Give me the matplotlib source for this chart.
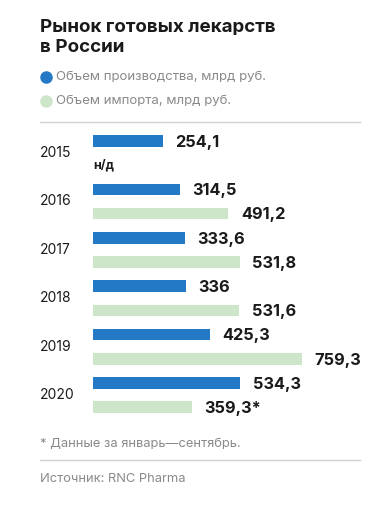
import matplotlib
matplotlib.use("Agg")
import matplotlib.pyplot as plt
from matplotlib.lines import Line2D

years = ["2015", "2016", "2017", "2018", "2019", "2020"]
production = [254.1, 314.5, 333.6, 336.0, 425.3, 534.3]
imports = [None, 491.2, 531.8, 531.6, 759.3, 359.3]
prod_labels = ["254,1", "314,5", "333,6", "336", "425,3", "534,3"]
imp_labels = ["н/д", "491,2", "531,8", "531,6", "759,3", "359,3*"]

title = "Рынок готовых лекарств\nв России"
legend_labels = ["Объем производства, млрд руб.", "Объем импорта, млрд руб."]
footnote = "* Данные за январь—сентябрь."
source = "Источник: RNC Pharma"

BLUE = "#2479c6"
GREEN = "#cde6c9"
GRAY = "#8a8a8a"
FONT = ["Inter", "DejaVu Sans"]
plt.rcParams["font.family"] = FONT

W, H = 389, 509
fig = plt.figure(figsize=(W / 100, H / 100), dpi=100)
fig.patch.set_facecolor("white")

def fx(px):
    return px / W

def fy(py):
    return 1 - py / H

# Title
fig.text(fx(40), fy(19), title, fontsize=13.5, fontweight="bold", color="#1a1a1a",
         va="top", ha="left", linespacing=1.25)

# Legend
for i, (lab, col) in enumerate(zip(legend_labels, [BLUE, GREEN])):
    y = 77 + 24 * i
    fig.add_artist(Line2D([fx(46)], [fy(y)], marker="o", markersize=8,
                          color=col, transform=fig.transFigure))
    fig.text(fx(56), fy(y), lab, fontsize=9.5, color=GRAY, va="center", ha="left")

# separators
fig.add_artist(Line2D([fx(40), fx(360)], [fy(122), fy(122)], color="#d0d0d0",
                      lw=1, transform=fig.transFigure))
fig.add_artist(Line2D([fx(40), fx(360)], [fy(460), fy(460)], color="#d0d0d0",
                      lw=1, transform=fig.transFigure))

# Bars axes
pitch = 24.2
top_px = 141 - pitch / 2
bot_px = 141 + 11 * pitch + pitch / 2
left_px = 93
right_px = W
scale = 0.2755  # px per unit
ax = fig.add_axes([fx(left_px), fy(bot_px), fx(right_px - left_px), (bot_px - top_px) / H])
ax.set_xlim(0, (right_px - left_px) / scale)
ax.set_ylim(11.5, -0.5)
ax.axis("off")

bh = 0.48
for i, yr in enumerate(years):
    yb = 2 * i
    yg = 2 * i + 1
    ax.barh(yb, production[i], height=bh, color=BLUE)
    ax.annotate(prod_labels[i], (production[i], yb), xytext=(9, -1),
                textcoords="offset points", va="center", ha="left",
                fontsize=11.8, fontweight="bold", color="#1a1a1a")
    if imports[i] is not None:
        ax.barh(yg, imports[i], height=bh, color=GREEN)
        ax.annotate(imp_labels[i], (imports[i], yg), xytext=(9, -1),
                    textcoords="offset points", va="center", ha="left",
                    fontsize=11.8, fontweight="bold", color="#1a1a1a")
    else:
        ax.annotate(imp_labels[i], (0, yg), xytext=(0, 0),
                    textcoords="offset points", va="center", ha="left",
                    fontsize=9, fontweight="bold", color="#1a1a1a")
    ymid_px = 141 + (2 * i + 0.5) * pitch
    fig.text(fx(40), fy(ymid_px), yr, fontsize=10, color="#1a1a1a",
             va="center", ha="left")

fig.text(fx(40), fy(444), footnote, fontsize=9.3, color=GRAY, va="center", ha="left")
fig.text(fx(40), fy(479), source, fontsize=9.3, color=GRAY, va="center", ha="left")

fig.savefig("out.png", dpi=100, facecolor="white")
